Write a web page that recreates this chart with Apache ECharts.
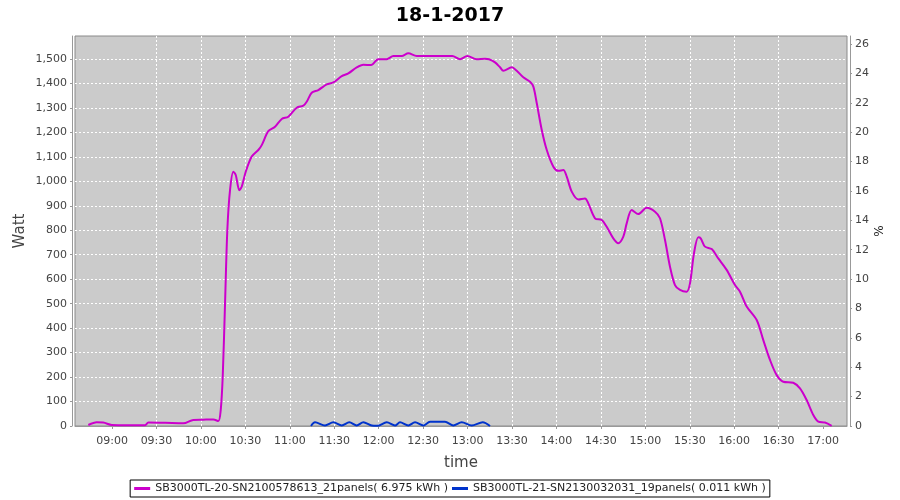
<!DOCTYPE html>
<html>
<head>
<meta charset="utf-8">
<script src="https://cdn.jsdelivr.net/npm/echarts@6/dist/echarts.min.js"></script>
<style>html,body{margin:0;padding:0;background:#fff}#c{width:900px;height:500px}</style>
</head>
<body>
<div id="c"></div>
<script>
// ---- data ----
var chartTitle = '18-1-2017';
var seriesNames = [
  'SB3000TL-20-SN2100578613_21panels( 6.975 kWh )',
  'SB3000TL-21-SN2130032031_19panels( 0.011 kWh )'
];
var xRange = ['08:35:00', '17:16:08'];
var xTicks = ['09:00','09:30','10:00','10:30','11:00','11:30','12:00','12:30','13:00','13:30','14:00','14:30','15:00','15:30','16:00','16:30','17:00'];
var leftMax = 1594, rightMax = 26.55;

var times1 = ['08:44:00','08:49:40','08:54:05','08:59:50','09:10:48','09:22:17','09:24:30','09:35:47','09:48:08','09:54:53','10:01:25','10:08:23','10:11:45','10:13:22','10:14:43','10:16:17','10:17:50','10:19:39','10:21:53','10:23:30','10:25:56','10:27:33','10:30:15','10:34:18','10:38:45','10:41:03','10:45:30','10:50:01','10:54:33','10:59:00','11:04:40','11:09:08','11:11:25','11:14:47','11:19:15','11:24:55','11:29:23','11:35:03','11:39:30','11:45:10','11:49:38','11:54:50','11:59:45','12:05:25','12:09:53','12:15:33','12:20:00','12:25:40','12:31:16','12:38:01','12:44:46','12:49:42','12:54:54','12:59:50','13:06:11','13:11:46','13:14:28','13:18:32','13:21:54','13:24:08','13:29:48','13:33:10','13:37:38','13:42:09','13:44:25','13:46:43','13:50:05','13:53:28','13:57:55','14:01:17','14:04:39','14:06:57','14:10:19','14:14:46','14:19:16','14:21:30','14:26:02','14:30:33','14:33:55','14:38:22','14:41:45','14:45:08','14:47:25','14:50:48','14:55:15','15:00:55','15:06:32','15:09:54','15:13:17','15:16:39','15:20:01','15:23:24','15:27:55','15:30:09','15:32:51','15:35:45','15:37:22','15:40:16','15:44:47','15:49:14','15:54:54','16:00:31','16:03:54','16:08:25','16:15:10','16:19:38','16:24:09','16:28:40','16:33:07','16:39:52','16:44:24','16:48:55','16:53:23','16:56:46','17:01:16','17:05:47'];
var watts1 = [4,15,14,4,3,3,14,13,11,25,26,27,20,65,202,501,801,964,1039,1026,964,978,1039,1101,1128,1148,1205,1223,1255,1264,1301,1309,1325,1362,1373,1396,1404,1430,1441,1466,1477,1475,1499,1499,1512,1512,1523,1512,1512,1512,1512,1512,1499,1512,1499,1501,1499,1486,1466,1452,1466,1452,1425,1407,1387,1319,1210,1128,1060,1043,1046,1019,958,926,930,910,849,842,814,767,747,774,828,883,866,892,876,849,760,651,576,556,549,583,706,771,767,733,723,685,638,576,549,488,433,351,270,208,181,177,154,106,45,18,14,1];

var times2 = ['11:14:19','11:17:01','11:23:46','11:29:23','11:35:03','11:40:11','11:45:10','11:49:38','11:55:18','11:59:05','12:05:25','12:11:01','12:14:24','12:20:00','12:24:32','12:30:08','12:34:39','12:44:46','12:50:23','12:56:03','13:02:48','13:10:13','13:15:10'];
var watts2 = [0,15,2,15,2,15,2,15,2,1,15,2,15,2,15,2,17,17,2,15,2,15,0];

// ---- helpers: time of day -> minutes since midnight ----
function m(s) {
  var p = s.split(':');
  return (+p[0]) * 60 + (+p[1]) + (+(p[2] || 0)) / 60;
}
function pairs(ts, vs) { return ts.map(function (s, i) { return [m(s), vs[i]]; }); }
function pad(n) { return (n < 10 ? '0' : '') + n; }
function fmt(v) { var r = Math.round(v); return pad(Math.floor(r / 60)) + ':' + pad(r % 60); }
var tickVals = xTicks.map(m);

var FONT = 'DejaVu Sans';
var GRID_LINE = { color: '#ffffff', type: [2, 2], width: 1 };
var chart = echarts.init(document.getElementById('c'), null, { renderer: 'canvas' });
chart.setOption({
  animation: false,
  backgroundColor: '#ffffff',
  title: {
    text: chartTitle, left: 'center', top: 2,
    textStyle: { fontFamily: FONT, fontSize: 19, fontWeight: 'bold', color: '#000' }
  },
  legend: {
    bottom: 3, left: 'center',
    borderColor: '#000', borderWidth: 1, padding: [3, 4], itemGap: 4,
    itemWidth: 16, itemHeight: 3, icon: 'rect',
    textStyle: { fontFamily: FONT, fontSize: 11, color: '#222' },
    data: seriesNames
  },
  grid: {
    left: 75, right: 53, top: 36, bottom: 74,
    show: true, backgroundColor: '#cbcbcb', borderColor: '#8a8a8a', borderWidth: 1
  },
  xAxis: {
    type: 'value', min: m(xRange[0]), max: m(xRange[1]),
    offset: 4,
    name: 'time', nameLocation: 'middle', nameGap: 26, nameMoveOverlap: false,
    nameTextStyle: { fontFamily: FONT, fontSize: 15, color: '#444' },
    axisLine: { lineStyle: { color: '#999' } },
    axisTick: { show: true, length: 3, customValues: tickVals, lineStyle: { color: '#999' } },
    splitLine: { show: true, showMinLine: false, showMaxLine: false, lineStyle: GRID_LINE },
    axisLabel: {
      customValues: tickVals, margin: 6,
      fontFamily: FONT, fontSize: 11, color: '#444',
      formatter: fmt
    }
  },
  yAxis: [{
    type: 'value', min: 0, max: leftMax, interval: 100, position: 'left', offset: 3,
    name: 'Watt', nameLocation: 'middle', nameGap: 44, nameRotate: 90, nameMoveOverlap: false,
    nameTextStyle: { fontFamily: FONT, fontSize: 15, color: '#444' },
    axisLine: { show: true, lineStyle: { color: '#999' } },
    axisTick: { show: true, length: 2, lineStyle: { color: '#999' } },
    splitLine: { show: true, showMinLine: false, showMaxLine: false, lineStyle: GRID_LINE },
    axisLabel: {
      showMaxLabel: false, margin: 5, fontFamily: FONT, fontSize: 11, color: '#444',
      formatter: function (v) { return v.toLocaleString('en-US'); }
    }
  }, {
    type: 'value', min: 0, max: rightMax, interval: 2, position: 'right', offset: 3,
    name: '%', nameLocation: 'middle', nameGap: 24, nameRotate: 90, nameMoveOverlap: false,
    nameTextStyle: { fontFamily: FONT, fontSize: 12, color: '#222' },
    axisLine: { show: true, lineStyle: { color: '#999' } },
    axisTick: { show: true, length: 2, lineStyle: { color: '#999' } },
    splitLine: { show: false },
    axisLabel: { showMaxLabel: false, margin: 5, fontFamily: FONT, fontSize: 11, color: '#444' }
  }],
  series: [{
    name: seriesNames[0], type: 'line', yAxisIndex: 0, showSymbol: false, smooth: 0.3,
    lineStyle: { color: '#cc00cc', width: 2 }, itemStyle: { color: '#cc00cc' },
    data: pairs(times1, watts1)
  }, {
    name: seriesNames[1], type: 'line', yAxisIndex: 0, showSymbol: false, smooth: 0.3,
    lineStyle: { color: '#0033cc', width: 2 }, itemStyle: { color: '#0033cc' },
    data: pairs(times2, watts2)
  }]
});
</script>
</body>
</html>
